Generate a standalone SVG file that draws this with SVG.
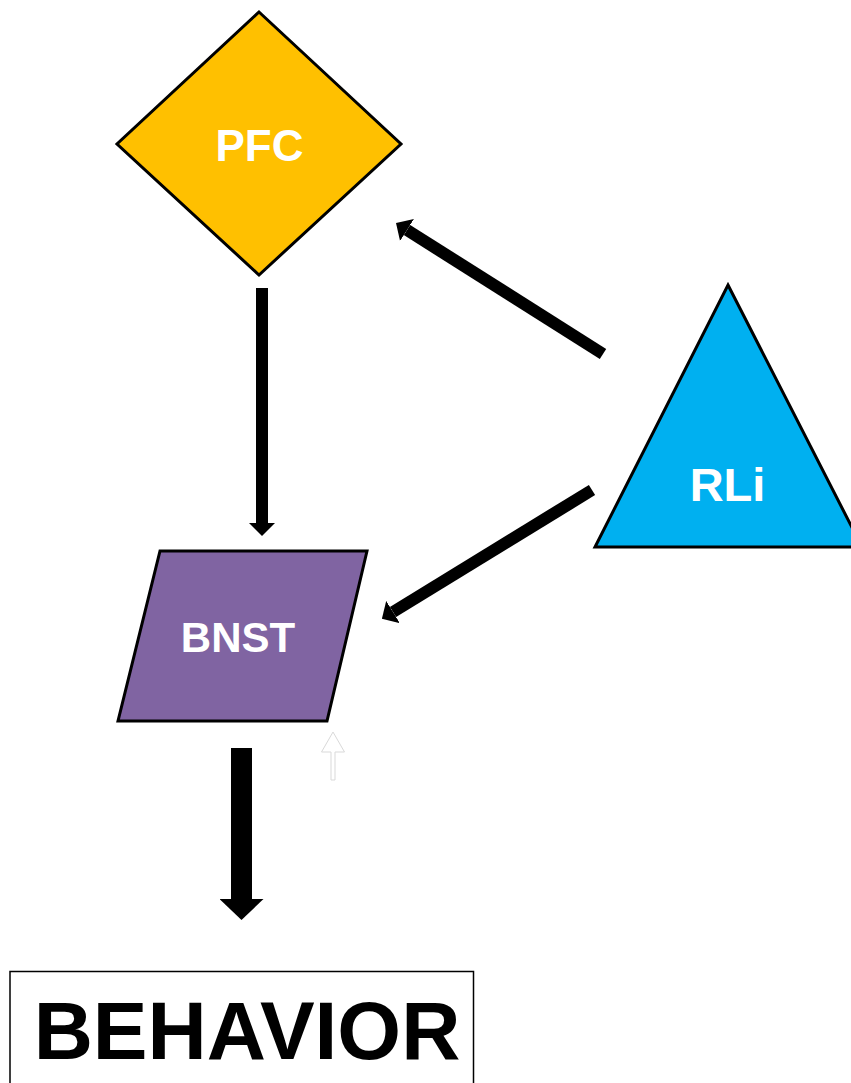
<svg xmlns="http://www.w3.org/2000/svg" width="851" height="1083" viewBox="0 0 851 1083">
  <style>
    .shape { stroke: #000; stroke-width: 3; stroke-linejoin: miter; }
    .lbl { font-family: "Liberation Sans", Arial, sans-serif; font-weight: bold; fill: #fff; text-anchor: middle; }
    .conn { stroke: #000; stroke-width: 12; fill: none; }
    .big { stroke: #000; stroke-width: 21; fill: none; }
  </style>
  <defs>
    <marker id="head" viewBox="0 0 13 26" refX="0" refY="13" markerWidth="13" markerHeight="26" markerUnits="userSpaceOnUse" orient="auto">
      <path d="M0,0 L13,13 L0,26 z" fill="#000"/>
    </marker>
    <marker id="bighead" viewBox="0 0 21 44" refX="0" refY="22" markerWidth="21" markerHeight="44" markerUnits="userSpaceOnUse" orient="auto">
      <path d="M0,0 L21,22 L0,44 z" fill="#000"/>
    </marker>
  </defs>
  <rect width="851" height="1083" fill="#fff"/>

  <g id="connectors">
    <line class="conn" x1="262" y1="288" x2="262" y2="523" marker-end="url(#head)"/>
    <line class="conn" x1="603" y1="354" x2="407" y2="230" marker-end="url(#head)"/>
    <line class="conn" x1="592" y1="490" x2="393" y2="612" marker-end="url(#head)"/>
    <line class="big" x1="241.5" y1="748" x2="241.5" y2="899" marker-end="url(#bighead)"/>
    <polygon points="333,732 344.5,752 335,752 335,780 331,780 331,752 321.5,752" fill="#fff" stroke="#d9d9d9" stroke-width="1"/>
  </g>

  <g id="PFC">
    <polygon class="shape" points="259,12 401,144 259,275 117,144" fill="#FFC000"/>
    <text class="lbl" x="259.5" y="161" font-size="44">PFC</text>
  </g>

  <g id="BNST">
    <polygon class="shape" points="160,551 367,551 327,721 118,721" fill="#8064A2"/>
    <text class="lbl" x="238" y="652" font-size="42">BNST</text>
  </g>

  <g id="RLi">
    <polygon class="shape" points="728,285 862,547 595,547" fill="#00B0F0"/>
    <text class="lbl" x="727.5" y="501" font-size="47">RLi</text>
  </g>

  <g id="BEHAVIOR">
    <rect x="10" y="971.5" width="463.5" height="120" fill="#fff" stroke="#000" stroke-width="1.5"/>
    <text x="247" y="1059" font-family="Liberation Sans, Arial, sans-serif" font-weight="bold" font-size="82" text-anchor="middle" fill="#000">BEHAVIOR</text>
  </g>
</svg>
